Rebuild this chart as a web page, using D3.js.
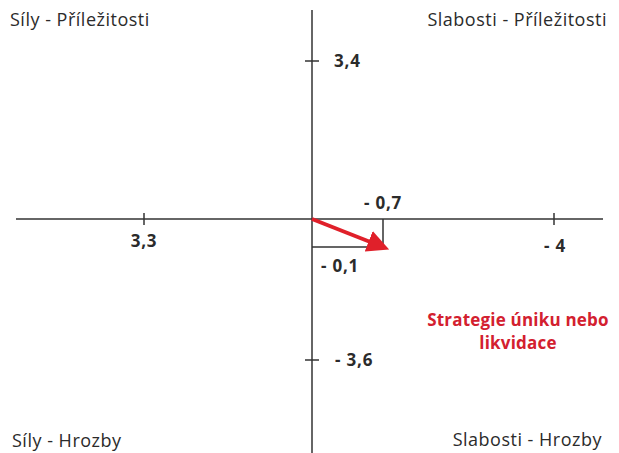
<!DOCTYPE html>
<html lang="cs">
<head>
  <meta charset="UTF-8">
  <title>Strategie SWOT</title>
  <script src="https://d3js.org/d3.v7.min.js"></script>
  <style>
    body { margin: 0; background: #fff; }
    text { font-family: "Open Sans", "Noto Sans", sans-serif; fill: #2b2b2b; }
    .corner { font-size: 18px; letter-spacing: 0.5px; }
    .tick-label { font-size: 17px; font-weight: bold; letter-spacing: 0.8px; }
    .strategy { font-size: 17px; font-weight: bold; fill: #d3202f; letter-spacing: 0.2px; }
  </style>
</head>
<body>
  <svg id="chart"></svg>
  <script>
    // quadrant labels
    const corners = ["Síly - Příležitosti", "Slabosti - Příležitosti", "Síly - Hrozby", "Slabosti - Hrozby"];
    // axis ticks (value, label)
    const xTicks = [3.3, -4];
    const xTickLabels = ["3,3", "- 4"];
    const yTicks = [3.4, -3.6];
    const yTickLabels = ["3,4", "- 3,6"];
    // resulting vector
    const vector = { x: -0.7, y: -0.1 };
    const vectorLabels = ["- 0,7", "- 0,1"];
    const strategy = ["Strategie úniku nebo", "likvidace"];

    const width = 619, height = 453;
    const svg = d3.select("#chart").attr("width", width).attr("height", height);

    // hand-drawn picture: scale is not uniform, so piecewise
    const x = d3.scaleLinear().domain([3.3, 0, -0.7, -4]).range([144, 312, 383, 554]);
    const y = d3.scaleLinear().domain([3.4, 0, -0.1, -3.6]).range([61, 219, 247, 360]);

    const axisColor = "#333";

    // axes
    svg.append("line").attr("x1", 16).attr("x2", 603).attr("y1", y(0)).attr("y2", y(0))
      .attr("stroke", axisColor).attr("stroke-width", 1.5);
    svg.append("line").attr("x1", x(0)).attr("x2", x(0)).attr("y1", 10).attr("y2", height)
      .attr("stroke", axisColor).attr("stroke-width", 1.5);

    // x ticks
    xTicks.forEach((t, i) => {
      svg.append("line").attr("x1", x(t)).attr("x2", x(t)).attr("y1", y(0) - 6).attr("y2", y(0) + 6)
        .attr("stroke", axisColor).attr("stroke-width", 1.5);
      svg.append("text").attr("class", "tick-label")
        .attr("x", x(t) + (t < 0 ? 1 : 0)).attr("y", y(0) + (t < 0 ? 33 : 28))
        .attr("text-anchor", "middle").text(xTickLabels[i]);
    });

    // y ticks
    yTicks.forEach((t, i) => {
      svg.append("line").attr("x1", x(0) - 7).attr("x2", x(0) + 7).attr("y1", y(t)).attr("y2", y(t))
        .attr("stroke", axisColor).attr("stroke-width", 1.5);
      svg.append("text").attr("class", "tick-label")
        .attr("x", x(0) + (t < 0 ? 23 : 22)).attr("y", y(t)).attr("dy", "0.35em")
        .text(yTickLabels[i]);
    });

    // projection box
    svg.append("path")
      .attr("d", `M${x(vector.x)},${y(0)}V${y(vector.y)}H${x(0)}`)
      .attr("fill", "none").attr("stroke", axisColor).attr("stroke-width", 1.5);

    svg.append("text").attr("class", "tick-label")
      .attr("x", x(vector.x)).attr("y", y(0) - 10).attr("text-anchor", "middle")
      .text(vectorLabels[0]);
    svg.append("text").attr("class", "tick-label")
      .attr("x", x(0) + 28).attr("y", y(vector.y) + 25).attr("text-anchor", "middle")
      .text(vectorLabels[1]);

    // arrow
    svg.append("defs").append("marker")
      .attr("id", "head").attr("viewBox", "0 0 10 10").attr("refX", 7).attr("refY", 5)
      .attr("markerWidth", 5.5).attr("markerHeight", 5.5).attr("orient", "auto")
      .append("path").attr("d", "M0,0L10,5L0,10z").attr("fill", "#e0202a");

    svg.append("line")
      .attr("x1", x(0)).attr("y1", y(0)).attr("x2", x(vector.x)).attr("y2", y(vector.y))
      .attr("stroke", "#e0202a").attr("stroke-width", 4)
      .attr("marker-end", "url(#head)");

    // strategy label
    svg.selectAll(".strategy").data(strategy).join("text")
      .attr("class", "strategy")
      .attr("x", 518).attr("y", (d, i) => 326 + i * 23)
      .attr("text-anchor", "middle").text(d => d);

    // corner labels
    const cornerPos = [
      { x: 10, y: 26, anchor: "start" },
      { x: 607, y: 26, anchor: "end" },
      { x: 12, y: 447, anchor: "start" },
      { x: 602, y: 446, anchor: "end" }
    ];
    svg.selectAll(".corner").data(corners).join("text")
      .attr("class", "corner")
      .attr("x", (d, i) => cornerPos[i].x).attr("y", (d, i) => cornerPos[i].y)
      .attr("text-anchor", (d, i) => cornerPos[i].anchor).text(d => d);
  </script>
</body>
</html>
